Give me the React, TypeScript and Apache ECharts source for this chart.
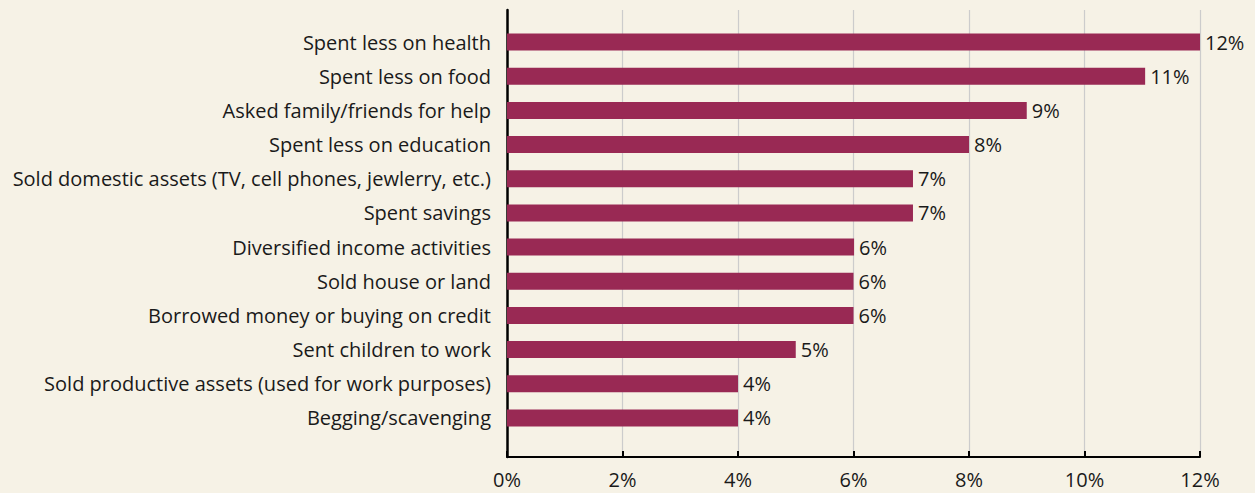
import React, { useEffect, useRef } from "react";
import * as echarts from "echarts";

const categories = [
  "Spent less on health",
  "Spent less on food",
  "Asked family/friends for help",
  "Spent less on education",
  "Sold domestic assets (TV, cell phones, jewlerry, etc.)",
  "Spent savings",
  "Diversified income activities",
  "Sold house or land",
  "Borrowed money or buying on credit",
  "Sent children to work",
  "Sold productive assets (used for work purposes)",
  "Begging/scavenging",
];
const values = [12, 11.05, 9, 8, 7.03, 7.03, 6.01, 6, 6, 5, 4, 4];
const valueLabels = ["12%", "11%", "9%", "8%", "7%", "7%", "6%", "6%", "6%", "5%", "4%", "4%"];

const BG = "#f6f2e6";
const BAR = "#992954";
const TEXT = "#1a1a1a";
const FONT = "'Open Sans', 'Noto Sans', sans-serif";

export default function App() {
  const ref = useRef<HTMLDivElement>(null);
  useEffect(() => {
    document.body.style.margin = "0";
    document.body.style.background = BG;
    const chart = echarts.init(ref.current!, null, { renderer: "svg" });
    chart.setOption({
      animation: false,
      backgroundColor: BG,
      textStyle: { fontFamily: FONT },
      grid: [
        { left: 507, right: 55, top: 10, bottom: 36 },
        { left: 507, right: 55, top: 25, bottom: 58 },
      ],
      xAxis: [
        {
          type: "value",
          gridIndex: 0,
          min: 0,
          max: 12,
          interval: 2,
          axisLine: { show: true, lineStyle: { color: "#000", width: 2 } },
          axisTick: { show: true, inside: true, length: 6, lineStyle: { color: "#000", width: 2 } },
          splitLine: { show: true, lineStyle: { color: "#cccccc", width: 1.2 } },
          axisLabel: {
            formatter: "{value}%",
            color: TEXT,
            fontSize: 20,
            fontFamily: FONT,
            margin: 12,
          },
        },
        {
          type: "value",
          gridIndex: 1,
          min: 0,
          max: 12,
          show: false,
        },
      ],
      yAxis: [
        {
          type: "value",
          gridIndex: 0,
          min: 0,
          max: 1,
          axisLine: { show: true, onZero: false, lineStyle: { color: "#000", width: 2.5 } },
          axisTick: { show: false },
          axisLabel: { show: false },
          splitLine: { show: false },
        },
        {
          type: "category",
          gridIndex: 1,
          inverse: true,
          data: categories,
          axisLine: { show: false },
          axisTick: { show: false },
          splitLine: { show: false },
          axisLabel: {
            color: TEXT,
            fontSize: 20,
            fontFamily: FONT,
            margin: 16,
          },
        },
      ],
      series: [
        {
          type: "bar",
          xAxisIndex: 1,
          yAxisIndex: 1,
          data: values,
          barWidth: 17,
          itemStyle: { color: BAR },
          label: {
            show: true,
            position: "right",
            distance: 5,
            color: TEXT,
            fontSize: 20,
            fontFamily: FONT,
            formatter: (p: any) => valueLabels[p.dataIndex],
          },
        },
      ],
    });
    return () => chart.dispose();
  }, []);
  return (
    <div
      ref={ref}
      style={{ position: "absolute", left: 0, top: 0, width: 1255, height: 493 }}
    />
  );
}
